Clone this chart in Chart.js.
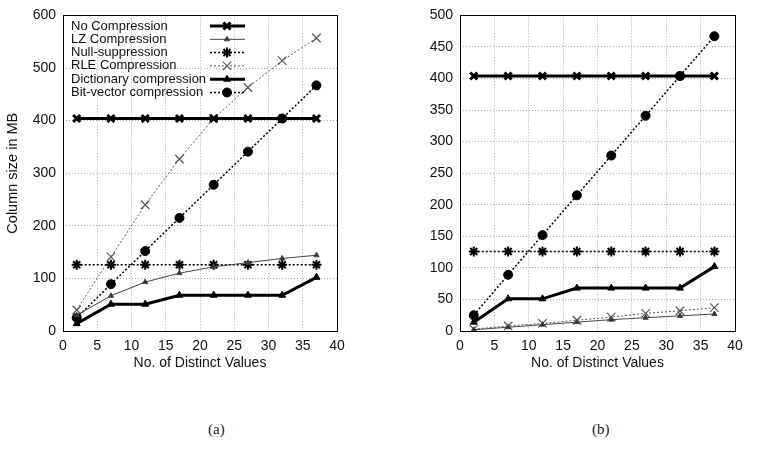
<!DOCTYPE html>
<html>
<head>
<meta charset="utf-8">
<script src="https://cdn.jsdelivr.net/npm/chart.js@4/dist/chart.umd.min.js"></script>
<style>
  body { margin: 0; background: #fff; width: 762px; height: 452px; position: relative; overflow: hidden; }
  .box { position: absolute; top: 0; width: 381px; height: 380px; }
  .cap { position: absolute; top: 421px; font: 15px "Liberation Serif", serif; color: #222; }
</style>
</head>
<body>
<div class="box" style="left:0"><canvas id="chart_a" width="381" height="380"></canvas></div>
<div class="box" style="left:381px"><canvas id="chart_b" width="381" height="380"></canvas></div>
<div class="cap" style="left:208px">(a)</div>
<div class="cap" style="left:592px">(b)</div>
<script>
// x = number of distinct values
const distinct = [2, 7, 12, 17, 22, 27, 32, 37];

// column size in MB
const noCompression = [404, 404, 404, 404, 404, 404, 404, 404];
const nullSuppression = [126, 126, 126, 126, 126, 126, 126, 126];
const dictionary = [14, 51, 51, 68, 68, 68, 68, 102];
const bitVector = [25, 89, 152, 215, 278, 341, 404, 467];
const lzA = [30, 67, 93, 110, 122, 130, 138, 144];
const rleA = [40, 141, 240, 327, 404, 463, 514, 557];
const lzB = [2, 6, 10, 14, 18, 21, 24, 27];
const rleB = [3, 8, 12, 17, 22, 28, 32, 37];

const ticksX = [0, 5, 10, 15, 20, 25, 30, 35, 40];

const FONT = '"Liberation Sans", Arial, sans-serif';
const INK = '#111';

function pts(ys) {
  return distinct.map((x, i) => ({ x: x, y: ys[i] }));
}

// style of every series (also used by the key)
const styles = {
  'No Compression': { borderColor: '#000', borderWidth: 3, pointStyle: 'crossRot', pointRadius: 5, pointBorderWidth: 3, pointBackgroundColor: '#000', borderDash: [] },
  'LZ Compression': { borderColor: '#444', borderWidth: 1, pointStyle: 'triangle', pointRadius: 3, pointBorderWidth: 1, pointBackgroundColor: '#333', borderDash: [] },
  'Null-suppression': { borderColor: '#000', borderWidth: 1.5, pointStyle: 'star', pointRadius: 5, pointBorderWidth: 2, pointBackgroundColor: '#000', borderDash: [2, 2] },
  'RLE Compression': { borderColor: '#555', borderWidth: 1, pointStyle: 'crossRot', pointRadius: 6, pointBorderWidth: 1.2, pointBackgroundColor: '#555', borderDash: [2, 2] },
  'Dictionary compression': { borderColor: '#000', borderWidth: 3, pointStyle: 'triangle', pointRadius: 4, pointBorderWidth: 1, pointBackgroundColor: '#000', borderDash: [] },
  'Bit-vector compression': { borderColor: '#000', borderWidth: 1.5, pointStyle: 'circle', pointRadius: 4.5, pointBorderWidth: 1, pointBackgroundColor: '#000', borderDash: [2, 2] }
};

function makeSet(label, ys) {
  const s = styles[label];
  return Object.assign({ label: label, data: pts(ys), tension: 0, pointBorderColor: s.borderColor }, s);
}

// black frame round the plot
const framePlugin = {
  id: 'frame',
  afterDraw(chart) {
    const a = chart.chartArea, ctx = chart.ctx;
    ctx.save();
    ctx.strokeStyle = '#000';
    ctx.lineWidth = 1;
    ctx.strokeRect(Math.round(a.left) + 0.5, Math.round(a.top) + 0.5, Math.round(a.right - a.left), Math.round(a.bottom - a.top));
    ctx.restore();
  }
};

// gnuplot style key: text on the left, sample on the right
const keyPlugin = {
  id: 'key',
  afterDraw(chart, args, opts) {
    if (!opts.show) return;
    const ctx = chart.ctx;
    ctx.save();
    ctx.font = '13px ' + FONT;
    ctx.textBaseline = 'middle';
    ctx.textAlign = 'left';
    chart.data.datasets.forEach((ds, i) => {
      const y = 26 + i * 13.3;
      ctx.fillStyle = INK;
      ctx.fillText(ds.label, 71, y);
      ctx.strokeStyle = ds.borderColor;
      ctx.lineWidth = ds.borderWidth;
      ctx.setLineDash(ds.borderDash);
      ctx.beginPath();
      ctx.moveTo(210, y);
      ctx.lineTo(245, y);
      ctx.stroke();
      ctx.setLineDash([]);
      ctx.fillStyle = ds.pointBackgroundColor;
      ctx.strokeStyle = ds.borderColor;
      ctx.lineWidth = ds.pointBorderWidth;
      Chart.helpers.drawPoint(ctx, { pointStyle: ds.pointStyle, radius: ds.pointRadius, rotation: 0, borderWidth: ds.pointBorderWidth }, 227, y);
    });
    ctx.restore();
  }
};

function makeChart(id, sets, yMax, yStep, yWidth, padRight, yTitle, showKey) {
  return new Chart(document.getElementById(id), {
    type: 'line',
    data: { datasets: sets },
    plugins: [framePlugin, keyPlugin],
    options: {
      responsive: false,
      animation: false,
      layout: { padding: { top: 15, right: padRight, bottom: 0, left: 0 } },
      plugins: {
        legend: { display: false },
        tooltip: { enabled: false },
        key: { show: showKey }
      },
      scales: {
        x: {
          type: 'linear', min: 0, max: 40,
          afterBuildTicks: (s) => { s.ticks = ticksX.map(v => ({ value: v })); },
          afterFit: (s) => { s.height = 49; },
          grid: { color: '#aaa', drawTicks: false },
          border: { display: false, dash: [1, 2] },
          ticks: { padding: 7, color: INK, font: { family: FONT, size: 14 } },
          title: { display: true, text: 'No. of Distinct Values', color: INK, padding: { top: 0, bottom: 8 }, font: { family: FONT, size: 14 } }
        },
        y: {
          min: 0, max: yMax,
          ticks: { stepSize: yStep, padding: 7, color: INK, font: { family: FONT, size: 14 } },
          afterFit: (s) => { s.width = yWidth; },
          grid: { color: '#aaa', drawTicks: false },
          border: { display: false, dash: [1, 2] },
          title: { display: yTitle !== '', text: yTitle, color: INK, padding: 4, font: { family: FONT, size: 14.5 } }
        }
      }
    }
  });
}

makeChart('chart_a', [
  makeSet('No Compression', noCompression),
  makeSet('LZ Compression', lzA),
  makeSet('Null-suppression', nullSuppression),
  makeSet('RLE Compression', rleA),
  makeSet('Dictionary compression', dictionary),
  makeSet('Bit-vector compression', bitVector)
], 600, 100, 63, 44, 'Column size in MB', true);

makeChart('chart_b', [
  makeSet('No Compression', noCompression),
  makeSet('LZ Compression', lzB),
  makeSet('Null-suppression', nullSuppression),
  makeSet('RLE Compression', rleB),
  makeSet('Dictionary compression', dictionary),
  makeSet('Bit-vector compression', bitVector)
], 500, 50, 79, 27, '', false);
</script>
</body>
</html>
